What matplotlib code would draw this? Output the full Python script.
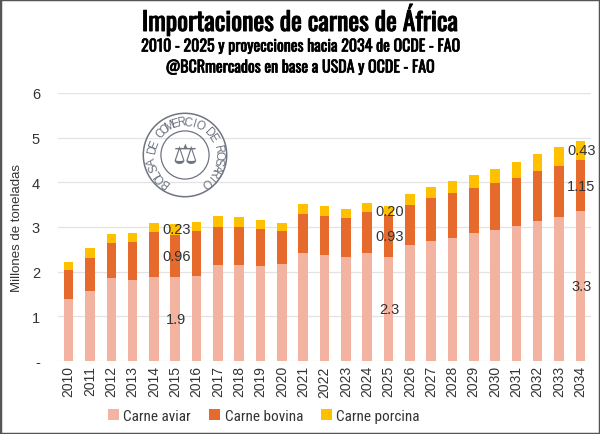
import numpy as np
import matplotlib.pyplot as plt
import matplotlib.patheffects as pe
from matplotlib.patches import Rectangle, Circle

years = [str(y) for y in range(2010, 2035)]
aviar = [1.38, 1.56, 1.85, 1.82, 1.88, 1.87, 1.91, 2.14, 2.16, 2.12, 2.17, 2.41, 2.38,
         2.33, 2.41, 2.33, 2.60, 2.69, 2.76, 2.86, 2.93, 3.03, 3.13, 3.23, 3.35]
bovina = [0.66, 0.75, 0.79, 0.85, 1.01, 0.96, 0.99, 0.86, 0.84, 0.83, 0.74, 0.89, 0.86,
          0.88, 0.92, 0.93, 0.90, 0.95, 1.01, 1.02, 1.05, 1.07, 1.13, 1.13, 1.15]
porcina = [0.18, 0.22, 0.21, 0.20, 0.21, 0.23, 0.21, 0.24, 0.22, 0.20, 0.19, 0.22, 0.23,
           0.20, 0.21, 0.20, 0.23, 0.25, 0.27, 0.29, 0.32, 0.35, 0.37, 0.42, 0.43]
series_names = ["Carne aviar", "Carne bovina", "Carne porcina"]
colors = ["#F2B3A0", "#E66A2C", "#FFC000"]

# labelled bars: (index, aviar label, bovina label, porcina label)
labelled = [(5, "1.9", "0.96", "0.23"), (15, "2.3", "0.93", "0.20"), (24, "3.3", "1.15", "0.43")]

title_font = ["Oswald", "Roboto Condensed", "DejaVu Sans"]
narrow_font = ["Liberation Sans Narrow", "Arial Narrow", "Roboto Condensed", "DejaVu Sans"]
plt.rcParams["font.family"] = ["Liberation Sans", "Arimo", "DejaVu Sans"]


def draw_seal(fig, cx, cy, r):
    # watermark seal, drawn in figure-pixel coords
    ax = fig.add_axes([(cx - r) / 600, (435 - cy - r) / 435, 2 * r / 600, 2 * r / 435])
    ax.set_xlim(-1, 1)
    ax.set_ylim(-1, 1)
    ax.axis("off")
    gray = "#6E7480"
    ax.add_patch(Circle((0, 0), 0.97, fill=False, ec=gray, lw=1.1))
    ax.add_patch(Circle((0, 0), 0.56, fill=False, ec=gray, lw=0.9))
    text = "BOLSA DE COMERCIO DE ROSARIO"
    angles = np.linspace(232, -52, len(text))
    for ch, a in zip(text, angles):
        t = np.deg2rad(a)
        ax.text(0.77 * np.cos(t), 0.77 * np.sin(t), ch, rotation=a - 90,
                ha="center", va="center", fontsize=8.5, color=gray)
    ax.text(0, 0.0, "\u2696", ha="center", va="center", fontsize=20, color=gray,
            family="DejaVu Sans")


def main():
    fig = plt.figure(figsize=(6, 4.35), dpi=100)
    ax = fig.add_axes([58 / 600, (435 - 362) / 435, 533 / 600, 268 / 435])

    x = np.arange(len(years))
    w = 0.45
    bottom = np.zeros(len(years))
    for vals, name, c in zip([aviar, bovina, porcina], series_names, colors):
        ax.bar(x, vals, w, bottom=bottom, color=c, label=name, zorder=2)
        bottom = bottom + np.array(vals)

    for i, la, lb, lp in labelled:
        ax.text(i + 0.05, aviar[i] / 2, la, ha="center", va="center", fontsize=10.5, color="#333333", zorder=3)
        ax.text(i + 0.05, aviar[i] + bovina[i] / 2, lb, ha="center", va="center", fontsize=10.5, color="#333333", zorder=3)
        ax.text(i + 0.05, aviar[i] + bovina[i] + porcina[i] / 2, lp, ha="center", va="center", fontsize=10.5, color="#333333", zorder=3)

    ax.set_xlim(-0.5, len(years) - 0.5)
    ax.set_ylim(0, 6)
    ax.set_yticks(range(7))
    ax.set_yticklabels(["-", "1", "2", "3", "4", "5", "6"])
    ax.grid(axis="y", color="#E3E3E3", lw=0.9, zorder=0)
    ax.set_xticks(x)
    ax.set_xticklabels(years, rotation=90)
    ax.tick_params(length=0, labelsize=10, colors="#333333")
    ax.tick_params(axis="x", pad=3)
    ax.tick_params(axis="y", pad=13, labelsize=10.5)
    for s in ax.spines.values():
        s.set_visible(False)
    ax.set_ylabel("Millones de toneladas", fontsize=9.5, color="#333333", labelpad=6)

    ax.legend(loc="center", bbox_to_anchor=(264 / 600, 1 - 417 / 435), bbox_transform=fig.transFigure,
              ncol=3, frameon=False, handlelength=0.7, handleheight=0.7,
              handletextpad=0.3, columnspacing=1.2, labelcolor="#333333",
              prop={"family": narrow_font, "size": 11})

    # Oswald has no bold here, thicken it with a stroke
    heavy = [pe.withStroke(linewidth=0.7, foreground="black")]
    heavy_sub = [pe.withStroke(linewidth=0.5, foreground="black")]
    fig.text(0.5, 1 - 21 / 435, "Importaciones de carnes de África", ha="center", va="center",
             fontsize=18.5, family=title_font, path_effects=heavy)
    fig.text(0.5, 1 - 48 / 435, "2010 - 2025 y proyecciones hacia 2034 de OCDE - FAO", ha="center",
             va="center", fontsize=11.5, family=title_font, path_effects=heavy_sub)
    fig.text(0.5, 1 - 69 / 435, "@BCRmercados en base a USDA y OCDE - FAO", ha="center",
             va="center", fontsize=11.5, family=title_font, path_effects=heavy_sub)

    draw_seal(fig, 185, 156, 43)

    fig.patches.append(Rectangle((0, 0), 1, 1, transform=fig.transFigure, fill=False,
                                 ec="#555555", lw=2.5))
    fig.savefig("out.png", dpi=100)


if __name__ == "__main__":
    main()
